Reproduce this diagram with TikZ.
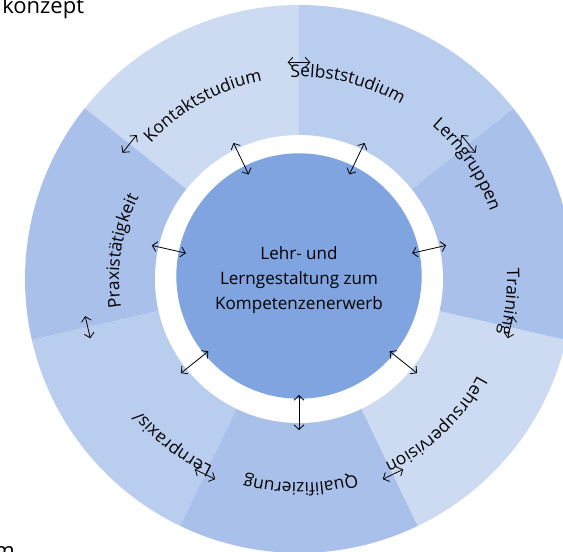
\documentclass[tikz,border=0pt]{standalone}
\usepackage{fontspec}
\setmainfont{Open Sans}
\usetikzlibrary{decorations.text,arrows.meta}

\definecolor{ringlight}{HTML}{CCDBF2}
\definecolor{ringmid}{HTML}{B9CDEE}
\definecolor{ringdark}{HTML}{A9C1EA}
\definecolor{corefill}{HTML}{7FA4E0}

\tikzset{
  x=0.75pt, y=0.75pt,
  dblarrow/.style={{Straight Barb[length=3.5pt,width=7.5pt]}-{Straight Barb[length=3.5pt,width=7.5pt]}, line width=0.6pt},
  ringlabel/.style={decorate, decoration={text along path, text align=center,
    text={|\fontsize{13}{15}\selectfont|#1}}},
}
\newcommand\ringtext[3]{\path[ringlabel={#3}] (#1+45:#2) arc[start angle=#1+45, end angle=#1-45, radius=#2];}

\begin{document}
\begin{tikzpicture}
\useasboundingbox (-299,279) rectangle (264,-272);

% ring of seven sectors
\foreach \col [count=\i from 0] in {ringlight,ringdark,ringmid,ringdark,ringlight,ringdark,ringmid}{
  \pgfmathsetmacro\sa{90+\i*360/7}
  \pgfmathsetmacro\ea{\sa+360/7}
  \fill[\col] (0,0) -- (\sa:274) arc[start angle=\sa, end angle=\ea, radius=274] -- cycle;
}
\fill[white] (0,0) circle[radius=144];

\node[circle, fill=corefill, minimum size=184pt, inner sep=0pt] (core) at (0,3) {};
\node[align=center, font=\fontsize{12.8}{18.75}\selectfont] (coretext) at (0,-1)
  {Lehr- und\\Lerngestaltung zum\\Kompetenzenerwerb};

% labels in the ring
\ringtext{119}{201}{Kontaktstudium}
\ringtext{76}{202}{Selbststudium}
\ringtext{34.3}{203}{Lerngruppen}
\ringtext{-6.2}{208}{Training}
\ringtext{-46.7}{203}{Lehrsupervision}
\ringtext{-89.5}{204}{Qualifizierung}
\ringtext{-127.5}{206}{Lernpraxis/}
\ringtext{171}{180}{Praxistätigkeit}

% arrows core <-> ring
\foreach \m [count=\i] in {115.71,64.29,12.86,-38.57,-90,-141.43,167.14}{
  \coordinate (in\i) at (\m:116);
  \coordinate (out\i) at (\m:151);
  \draw[dblarrow] (in\i) -- (out\i);
}
% arrows between neighbouring sectors
\foreach \b [count=\i] in {90,38.57,-12.86,-64.29,-115.71,-167.14,141.43}{
  \coordinate (tl\i) at (\b+3:217);
  \coordinate (tr\i) at (\b-3:217);
  \draw[dblarrow] (tl\i) -- (tr\i);
}

\node[anchor=base west, inner sep=0pt, font=\fontsize{16.5}{19}\selectfont] (title) at (-297,265.7) {konzept};
\node[anchor=base east, inner sep=0pt, font=\fontsize{16.5}{19}\selectfont] (foot) at (-284,-279.5) {m};
\end{tikzpicture}
\end{document}
